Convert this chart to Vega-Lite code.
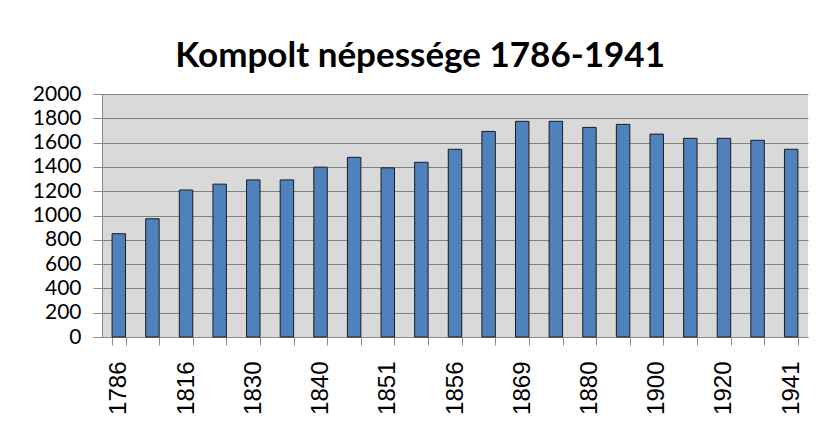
{
  "$schema": "https://vega.github.io/schema/vega-lite/v6.json",
  "width": 706,
  "height": 243,
  "autosize": {"type": "none"},
  "padding": {"left": 102, "top": 94, "right": 17, "bottom": 95},
  "background": "white",
  "title": {
    "text": "Kompolt népessége 1786-1941",
    "font": "Lato",
    "fontSize": 35,
    "fontWeight": "bold",
    "color": "#000000",
    "anchor": "middle",
    "frame": "bounds",
    "offset": 15,
    "dy": 6
  },
  "data": {
    "values": [
      {"ev": "1786", "nepesseg": 850},
      {"ev": "1800", "nepesseg": 973},
      {"ev": "1816", "nepesseg": 1210},
      {"ev": "1828", "nepesseg": 1258},
      {"ev": "1830", "nepesseg": 1293},
      {"ev": "1835", "nepesseg": 1293},
      {"ev": "1840", "nepesseg": 1398},
      {"ev": "1847", "nepesseg": 1479},
      {"ev": "1851", "nepesseg": 1392},
      {"ev": "1854", "nepesseg": 1438},
      {"ev": "1856", "nepesseg": 1545},
      {"ev": "1857", "nepesseg": 1692},
      {"ev": "1869", "nepesseg": 1775},
      {"ev": "1870", "nepesseg": 1775},
      {"ev": "1880", "nepesseg": 1725},
      {"ev": "1890", "nepesseg": 1750},
      {"ev": "1900", "nepesseg": 1670},
      {"ev": "1910", "nepesseg": 1635},
      {"ev": "1920", "nepesseg": 1635},
      {"ev": "1930", "nepesseg": 1619},
      {"ev": "1941", "nepesseg": 1545}
    ]
  },
  "mark": {"type": "bar", "color": "#4f81bd", "stroke": "#1c1c1c", "strokeWidth": 1},
  "encoding": {
    "x": {
      "field": "ev",
      "type": "nominal",
      "sort": null,
      "scale": {"paddingInner": 0.6, "paddingOuter": 0.3},
      "axis": {
        "title": null,
        "labelAngle": -90,
        "labelAlign": "right",
        "labelBaseline": "middle",
        "labelFont": "Liberation Sans",
        "labelFontSize": 24,
        "labelColor": "#000000",
        "labelPadding": 16,
        "tickBand": "extent",
        "tickSize": 8,
        "tickColor": "#8c8c8c",
        "domainColor": "#8c8c8c",
        "labelExpr": "indexof(['1786','1816','1830','1840','1851','1856','1869','1880','1900','1920','1941'], datum.value) >= 0 ? datum.label : ''"
      }
    },
    "y": {
      "field": "nepesseg",
      "type": "quantitative",
      "scale": {"domain": [0, 2000], "nice": false},
      "axis": {
        "title": null,
        "format": "d",
        "values": [0, 200, 400, 600, 800, 1000, 1200, 1400, 1600, 1800, 2000],
        "labelFont": "Lato",
        "labelFontSize": 21,
        "labelColor": "#000000",
        "labelPadding": 12,
        "tickSize": 9,
        "tickColor": "#8c8c8c",
        "domainColor": "#8c8c8c",
        "grid": true,
        "gridColor": "#808080",
        "gridWidth": 1
      }
    }
  },
  "config": {
    "view": {"fill": "#d9d9d9", "stroke": null}
  }
}
